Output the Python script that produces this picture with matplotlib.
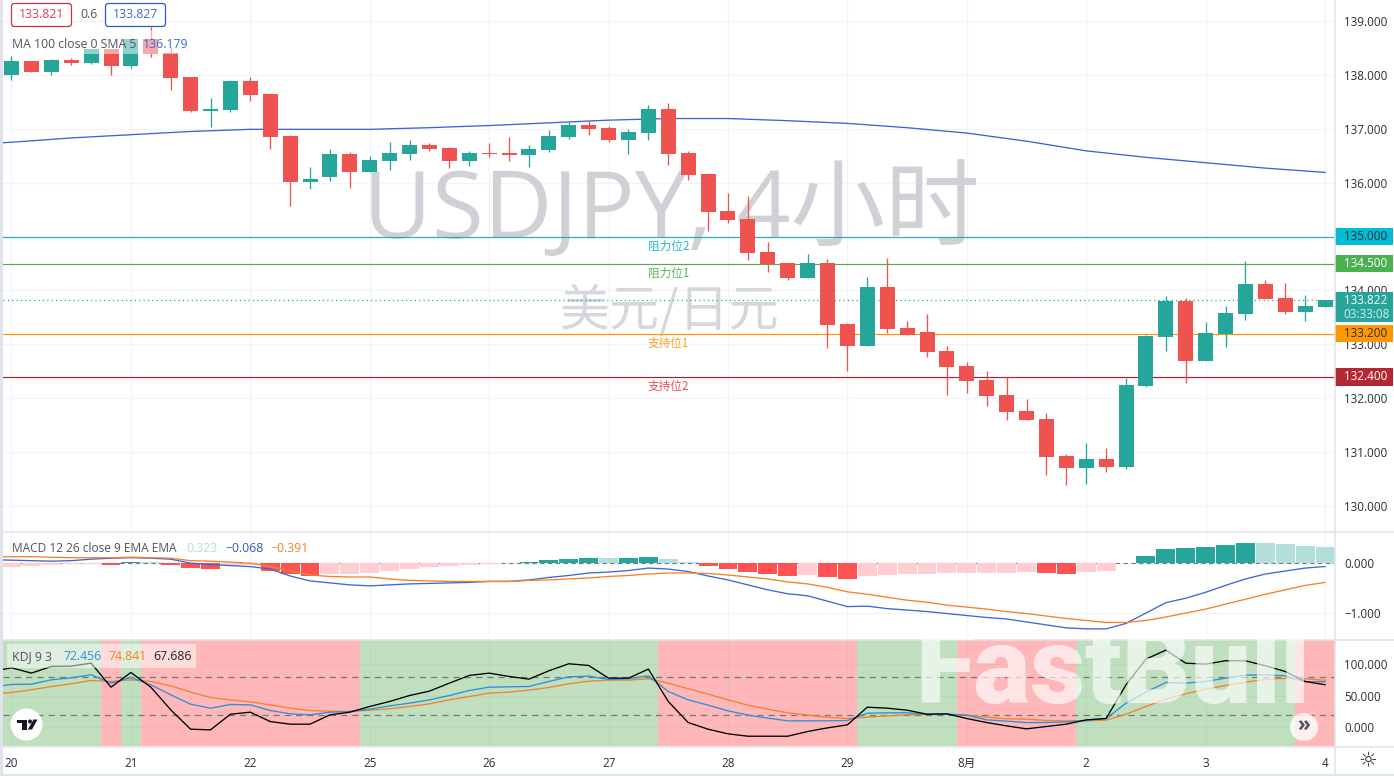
import matplotlib
matplotlib.use("Agg")
import matplotlib.pyplot as plt
from matplotlib.patches import Rectangle, FancyBboxPatch, Circle, Polygon
import numpy as np

plt.rcParams['font.family'] = ['Open Sans', 'Noto Sans CJK SC', 'DejaVu Sans']

W, H = 1394, 776

# candles, one per 4 hours
opens = [138.00, 138.26, 138.05, 138.28, 138.22, 138.48, 138.17, 138.67, 138.41, 137.96,
         137.33, 137.35, 137.89, 137.65, 136.87, 136.01, 136.11, 136.53, 136.20, 136.40,
         136.53, 136.70, 136.64, 136.40, 136.55, 136.55, 136.51, 136.61, 136.85, 137.07,
         137.02, 136.79, 136.92, 137.37, 136.55, 136.16, 135.47, 135.33, 134.71, 134.51,
         134.23, 134.51, 133.38, 132.97, 134.06, 133.30, 133.23, 132.88, 132.60, 132.34,
         132.06, 131.76, 131.62, 130.93, 130.71, 130.87, 130.72, 132.23, 133.14, 133.80,
         132.69, 133.19, 133.56, 134.12, 133.86, 133.60, 133.69]
highs = [138.35, 138.26, 138.30, 138.31, 138.48, 138.48, 138.67, 138.89, 138.52, 137.96,
         137.57, 137.91, 137.96, 137.65, 136.89, 136.29, 136.63, 136.57, 136.50, 136.76,
         136.79, 136.74, 136.66, 136.59, 136.74, 136.85, 136.70, 136.98, 137.13, 137.14,
         137.05, 137.00, 137.44, 137.48, 136.59, 136.16, 135.81, 135.75, 134.90, 134.51,
         134.68, 134.58, 133.40, 134.25, 134.60, 133.43, 133.56, 132.97, 132.67, 132.50,
         132.40, 131.99, 131.73, 130.97, 131.17, 131.08, 132.38, 133.17, 133.90, 133.86,
         133.41, 133.71, 134.55, 134.19, 134.14, 133.92, 133.83]
lows = [137.91, 138.05, 138.00, 138.18, 138.20, 138.00, 138.13, 138.33, 137.72, 137.31,
        137.03, 137.31, 137.52, 136.63, 135.57, 135.88, 136.03, 135.90, 136.20, 136.24,
        136.42, 136.59, 136.27, 136.31, 136.48, 136.40, 136.29, 136.57, 136.81, 136.89,
        136.76, 136.53, 136.79, 136.33, 136.05, 135.10, 135.25, 134.57, 134.34, 134.19,
        134.23, 132.93, 132.50, 132.97, 133.21, 133.17, 132.77, 132.06, 132.10, 131.86,
        131.60, 131.60, 130.58, 130.39, 130.41, 130.63, 130.69, 132.21, 132.88, 132.28,
        132.69, 132.95, 133.45, 133.84, 133.56, 133.43, 133.69]
closes = [138.26, 138.05, 138.28, 138.22, 138.48, 138.17, 138.67, 138.39, 137.94, 137.33,
          137.37, 137.89, 137.63, 136.85, 136.01, 136.07, 136.53, 136.20, 136.42, 136.55,
          136.70, 136.63, 136.40, 136.55, 136.53, 136.51, 136.63, 136.87, 137.07, 137.00,
          136.79, 136.94, 137.37, 136.53, 136.14, 135.46, 135.31, 134.70, 134.49, 134.23,
          134.51, 133.36, 132.97, 134.06, 133.29, 133.17, 132.86, 132.58, 132.32, 132.04,
          131.74, 131.60, 130.91, 130.71, 130.87, 130.72, 132.25, 133.16, 133.80, 132.69,
          133.21, 133.58, 134.12, 133.84, 133.60, 133.71, 133.82]

# 100 period moving average, read every third bar
ma_bars = [-1, 0, 3, 6, 9, 12, 15, 18, 21, 24, 27, 30, 33, 36, 39, 42, 45, 48, 51, 54, 57, 60, 63, 66]
ma_vals = [136.73, 136.75, 136.83, 136.89, 136.95, 136.99, 136.99, 136.99, 137.02, 137.06, 137.11, 137.16,
           137.19, 137.19, 137.15, 137.10, 137.02, 136.92, 136.77, 136.59, 136.47, 136.37, 136.27, 136.19]

level_prices = [135.0, 134.5, 133.2, 132.4]
level_names = ['阻力位2', '阻力位1', '支持位1', '支持位2']
level_tags = ['135.000', '134.500', '133.200', '132.400']

macd_hist = [-0.07, -0.06, -0.04, -0.02, -0.01, -0.03, 0.03, 0.02, -0.03, -0.09,
             -0.12, -0.06, -0.04, -0.16, -0.22, -0.26, -0.21, -0.21, -0.20, -0.16,
             -0.12, -0.07, -0.05, -0.03, -0.01, 0.01, 0.03, 0.07, 0.09, 0.11,
             0.105, 0.11, 0.13, 0.09, 0.03, -0.05, -0.12, -0.18, -0.22, -0.26,
             -0.24, -0.28, -0.32, -0.26, -0.23, -0.22, -0.22, -0.20, -0.20, -0.20,
             -0.20, -0.18, -0.20, -0.22, -0.18, -0.16, -0.005, 0.15, 0.29, 0.31,
             0.33, 0.37, 0.41, 0.41, 0.39, 0.35, 0.323]
# line values start one bar before the first candle
macd_line = [0.07, 0.06, 0.05, 0.04, 0.05, 0.08, 0.10, 0.11, 0.10, 0.08, 0.00,
             -0.03, -0.05, -0.07, -0.12, -0.26, -0.36, -0.40, -0.44, -0.46, -0.44,
             -0.42, -0.41, -0.40, -0.39, -0.37, -0.37, -0.34, -0.29, -0.25, -0.20,
             -0.18, -0.15, -0.10, -0.12, -0.17, -0.26, -0.34, -0.44, -0.54, -0.62,
             -0.66, -0.77, -0.88, -0.87, -0.92, -0.95, -0.98, -1.02, -1.06, -1.10,
             -1.13, -1.19, -1.25, -1.31, -1.33, -1.33, -1.22, -1.01, -0.80, -0.71,
             -0.59, -0.45, -0.32, -0.22, -0.16, -0.10, -0.068]
signal_line = [0.13, 0.13, 0.13, 0.12, 0.11, 0.11, 0.11, 0.12, 0.11, 0.10, 0.05,
               0.04, 0.02, 0.00, -0.07, -0.15, -0.24, -0.27, -0.28, -0.28, -0.32,
               -0.35, -0.36, -0.37, -0.37, -0.37, -0.37, -0.35, -0.34, -0.32, -0.30,
               -0.27, -0.25, -0.22, -0.20, -0.20, -0.21, -0.24, -0.28, -0.32, -0.38,
               -0.42, -0.49, -0.58, -0.63, -0.69, -0.75, -0.79, -0.85, -0.89, -0.93,
               -0.98, -1.02, -1.07, -1.12, -1.16, -1.20, -1.20, -1.16, -1.09, -1.01,
               -0.93, -0.83, -0.73, -0.63, -0.54, -0.45, -0.391]

kdj_k = [63.8, 68.1, 68.6, 75.5, 78.7, 83.5, 70.2, 79.3, 67.6, 51.6, 36.7,
         30.3, 36.2, 35.6, 26.6, 21.3, 19.7, 23.9, 25.0, 28.7, 34.0,
         38.3, 43.6, 50.5, 58.5, 63.8, 64.4, 64.9, 72.9, 80.3, 81.4,
         76.1, 77.1, 81.9, 56.9, 43.6, 35.1, 26.1, 19.2, 14.4, 10.1,
         10.1, 10.1, 10.6, 22.3, 22.9, 22.9, 20.7, 20.7, 19.2, 11.7,
         9.6, 7.4, 7.4, 8.5, 10.6, 13.8, 38.3, 55.9, 71.3, 70.2,
         72.9, 78.2, 83.0, 83.5, 81.9, 72.4, 72.456]
kdj_d = [53.2, 55.3, 59.6, 64.9, 69.2, 74.5, 72.9, 75.5, 72.9, 66.0, 55.9,
         47.3, 43.6, 40.4, 35.6, 30.3, 26.6, 25.5, 25.0, 27.1, 29.3,
         33.0, 37.2, 43.6, 48.9, 54.3, 55.9, 59.1, 63.3, 69.2, 73.4,
         75.0, 75.0, 77.1, 70.2, 61.2, 52.7, 43.6, 35.1, 28.7, 22.9,
         19.2, 16.0, 13.8, 16.0, 18.1, 19.7, 20.2, 20.7, 19.2, 16.0,
         13.3, 12.8, 10.6, 10.1, 10.1, 11.2, 20.7, 33.0, 44.7, 53.2,
         60.6, 66.5, 71.8, 76.1, 77.7, 77.1, 74.841]
kdj_j = [88.8, 94.7, 86.2, 96.8, 97.4, 102.1, 63.8, 87.2, 63.8, 27.7, -3.2,
         -4.3, 20.7, 23.9, 9.0, 4.8, 4.8, 19.7, 23.9, 33.0, 41.0,
         50.5, 57.5, 70.2, 82.5, 86.2, 80.9, 76.6, 89.9, 101.1, 98.4,
         78.2, 78.2, 92.6, 41.0, 7.4, -3.2, -10.6, -14.4, -14.4, -14.4,
         -6.9, -1.1, 3.7, 31.9, 30.3, 27.1, 20.7, 21.3, 13.8, 7.4,
         2.1, -2.7, 1.1, 4.8, 11.7, 13.8, 67.6, 108.5, 122.9, 102.1,
         100.5, 105.9, 105.9, 97.9, 88.8, 72.9, 67.686]
# background runs of bars: length, True for green
kdj_run_len = [5, 1, 1, 11, 15, 10, 5, 6, 11, 2]
kdj_run_up = [True, False, True, False, True, False, True, False, True, False]

day_bars = [0, 6, 12, 18, 24, 30, 36, 42, 48, 54, 60, 66]
day_labels = ['20', '21', '22', '25', '26', '27', '28', '29', '8月', '2', '3', '4']
price_ticks = [130, 131, 132, 133, 134, 135, 136, 137, 138, 139]
macd_ticks = [0, -1]
kdj_ticks = [0, 50, 100]

UP = '#26a69a'
DOWN = '#ef5350'
GRID = '#f0f3fa'
EDGE = '#e0e3eb'
TXT = '#2a2e39'
GREY = '#50535e'
BLUE = '#2962ff'
ORANGE = '#f57c00'
LEVEL_LINE = ['#1fb0bf', '#55a858', '#ff9800', '#a5242c']
LEVEL_TEXT = ['#26b6d0', '#5cb560', '#ffa020', '#e8505b']
LEVEL_TAG = ['#00bcd4', '#4caf50', '#ff9800', '#b22833']
LEVEL_TAG_TXT = [TXT, 'white', TXT, 'white']
LABEL = 8.4


def px_axes(fig, left, top, right, bottom):
    return fig.add_axes([left / W, 1 - bottom / H, (right - left) / W, (bottom - top) / H])


fig = plt.figure(figsize=(W / 100, H / 100), dpi=100, facecolor='white')
ax = px_axes(fig, 3, 0.5, 1335, 531)
ax_macd = px_axes(fig, 3, 532, 1335, 639)
ax_kdj = px_axes(fig, 3, 640, 1335, 746)

bar_x = np.arange(len(closes))
line_x = np.arange(-1, len(closes))
xlim = (-0.427, 66.5)

for a in (ax, ax_macd, ax_kdj):
    a.set_xlim(*xlim)
    a.set_xticks(day_bars)
    a.set_xticklabels([])
    a.yaxis.tick_right()
    a.tick_params(length=0, labelsize=LABEL, labelcolor=TXT, pad=6.5)
    a.grid(True, color=GRID, lw=0.9)
    a.set_axisbelow(True)
    for s in a.spines.values():
        s.set_visible(False)

# main pane
ax.set_ylim(129.537, 139.38)
ax.set_yticks(price_ticks)
ax.set_yticklabels([f'{p:.3f}' for p in price_ticks])

ax.text(33.13, 134.97, 'USDJPY, 4小时', fontsize=68, color='#cfd1d6', ha='center', va='baseline',
        family=['Open Sans', 'Noto Sans CJK SC'], zorder=1)
ax.text(33.05, 133.61, '美元/日元', fontsize=36, color='#d6d7da', ha='center', va='center',
        family=['Noto Sans CJK SC'], zorder=1)

for p, name, tag, c_line, c_txt, c_tag, c_tagtxt in zip(level_prices, level_names, level_tags, LEVEL_LINE,
                                                        LEVEL_TEXT, LEVEL_TAG, LEVEL_TAG_TXT):
    ax.axhline(p, color=c_line, lw=0.85, zorder=2)
    ax.annotate(name, (33, p), xytext=(0, -9.5), textcoords='offset pixels', ha='center', va='center',
                fontsize=8.4, color=c_txt, family=['Noto Sans CJK SC'], zorder=2)
    ax.add_patch(Rectangle((1.0, p - 0.165), 58 / 1332, 0.33, transform=ax.get_yaxis_transform(),
                           color=c_tag, lw=0, clip_on=False, zorder=6))
    ax.text(1.0065, p, tag, transform=ax.get_yaxis_transform(), fontsize=LABEL, color=c_tagtxt,
            va='center', zorder=7, weight='medium')

ax.axhline(closes[-1], color=UP, lw=0.9, ls=(0, (1, 2.5)), zorder=2)
ax.plot(ma_bars, ma_vals, color='#3d63d6', lw=0.95, zorder=2.5)

colors = [UP if c >= o else DOWN for o, c in zip(opens, closes)]
ax.vlines(bar_x, lows, highs, colors=colors, lw=0.95, zorder=3)
body_low = [min(o, c) for o, c in zip(opens, closes)]
body_h = [abs(c - o) for o, c in zip(opens, closes)]
ax.bar(bar_x, body_h, bottom=body_low, width=0.754, color=colors, lw=0, zorder=3)

ax.add_patch(Rectangle((1.0, closes[-1] - 0.41), 58 / 1332, 0.56, transform=ax.get_yaxis_transform(),
                       color=UP, lw=0, clip_on=False, zorder=6))
ax.text(1.0065, closes[-1], '133.822', transform=ax.get_yaxis_transform(), fontsize=LABEL,
        color='white', va='center', zorder=7)
ax.text(1.0065, closes[-1] - 0.27, '03:33:08', transform=ax.get_yaxis_transform(), fontsize=LABEL,
        color='#d4edea', va='center', zorder=7)

# macd pane
ax_macd.set_ylim(-1.535, 0.63)
ax_macd.set_yticks(macd_ticks)
ax_macd.set_yticklabels(['0.000', '\u22121.000'])
ax_macd.axhline(0, color='#787b86', lw=0.8, ls=(0, (4, 3)), zorder=1)
hist_colors = []
for i, h in enumerate(macd_hist):
    prev = macd_hist[i - 1] if i else h
    if h >= 0:
        hist_colors.append(UP if h > prev else '#b2dfdb')
    else:
        hist_colors.append('#ff5252' if h < prev else '#ffcdd2')
ax_macd.bar(bar_x, macd_hist, width=0.95, color=hist_colors, lw=0, zorder=2)
ax_macd.plot(line_x, macd_line, color='#3f66d8', lw=0.95, zorder=3)
ax_macd.plot(line_x, signal_line, color='#f5822a', lw=0.95, zorder=3)

# kdj pane
ax_kdj.set_ylim(-30, 139)
ax_kdj.set_yticks(kdj_ticks)
ax_kdj.set_yticklabels(['0.000', '50.000', '100.000'])
ax_kdj.grid(True, color='#a8c8a8', lw=0.6, alpha=0.35)
start = -0.5
for n, up in zip(kdj_run_len, kdj_run_up):
    left = xlim[0] - 1 if start < 0 else start
    ax_kdj.axvspan(left, start + n, color='#bfdfbf' if up else '#ffb7b9', lw=0, zorder=0)
    start += n
ax_kdj.set_xticklabels(day_labels)
ax_kdj.tick_params(axis='x', pad=8)
for lev in (80, 20):
    ax_kdj.axhline(lev, color='#6f7d73', lw=0.9, ls=(0, (5, 4)), zorder=1)
ax_kdj.plot(line_x, kdj_d, color='#f5822a', lw=0.95, zorder=2)
ax_kdj.plot(line_x, kdj_k, color='#2f8fdc', lw=0.95, zorder=2.1)
ax_kdj.plot(line_x, kdj_j, color='black', lw=0.95, zorder=2.2)

# frame, legends and buttons in pixel coordinates
top = fig.add_axes([0, 0, 1, 1], zorder=10)
top.set_xlim(0, W)
top.set_ylim(H, 0)
top.axis('off')
top.patch.set_alpha(0)

top.add_patch(Rectangle((0, 0), 3, H, color=EDGE, lw=0))
top.add_patch(Rectangle((0, 774), W, 2, color=EDGE, lw=0))
for y in (531, 639, 746):
    top.plot([3, W], [y + 0.5, y + 0.5], color=EDGE, lw=1.1)
top.plot([1335, 1335], [0, 774], color=EDGE, lw=1.1)

top.add_patch(Rectangle((8, 30), 184, 24, color='white', alpha=0.5, lw=0))
top.add_patch(Rectangle((7, 644), 189, 24, color='white', alpha=0.5, lw=0))

for x0, col in ((11.5, '#c9323e'), (105.5, '#2f5bc0')):
    top.add_patch(FancyBboxPatch((x0, 3.5), 60, 23, boxstyle='round,pad=0,rounding_size=3',
                                 fc='white', ec=col, lw=0.9))
top.text(41.5, 15, '133.821', color='#d9434e', fontsize=8.8, ha='center', va='center')
top.text(80, 14.5, '0.6', color=GREY, fontsize=8.8, va='center')
top.text(135.5, 15, '133.827', color='#3c68d8', fontsize=8.8, ha='center', va='center')
top.text(12, 44, 'MA 100 close 0 SMA 5', color=GREY, fontsize=8.8, va='center')
top.text(143, 44, '136.179', color='#3c68d8', fontsize=8.8, va='center')

top.text(12, 548.5, 'MACD 12 26 close 9 EMA EMA', color=GREY, fontsize=8.6, va='center')
top.text(186, 548.5, '0.323', color='#b2dfdb', fontsize=8.8, va='center')
top.text(225, 548.5, '\u22120.068', color='#2f5bc0', fontsize=8.8, va='center')
top.text(270, 548.5, '\u22120.391', color='#f5822a', fontsize=8.8, va='center')

top.text(12, 656.5, 'KDJ 9 3', color=GREY, fontsize=8.8, va='center')
top.text(63, 656.5, '72.456', color='#2f8fdc', fontsize=8.8, va='center')
top.text(108, 656.5, '74.841', color='#f5822a', fontsize=8.8, va='center')
top.text(153, 656.5, '67.686', color='#222222', fontsize=8.8, va='center')

# tradingview badge
top.add_patch(Circle((26.5, 724.5), 16, color='white', lw=0))
top.add_patch(Polygon([(16.7, 719.5), (27, 719.5), (27, 729.5), (22, 729.5), (22, 723.2), (16.7, 723.2)],
                      color='#131722', lw=0))
top.add_patch(Circle((30, 721.5), 2, color='#131722', lw=0))
top.add_patch(Polygon([(33.5, 719.5), (37.5, 719.5), (32, 729.5), (27.8, 729.5)], color='#131722', lw=0))

top.add_patch(Circle((1304, 727), 14, color='white', alpha=0.8, lw=0))
top.text(1304, 725, '»', color='#50535e', fontsize=15, ha='center', va='center', weight='bold')
top.text(1368, 760, '☼', color=TXT, fontsize=15, ha='center', va='center', family=['DejaVu Sans'])

top.text(1113, 703, 'FastBull', color='white', alpha=0.65, fontsize=77, weight='black',
         ha='center', va='baseline', family=['Roboto'])

fig.savefig('out.png', dpi=100)
plt.close(fig)
